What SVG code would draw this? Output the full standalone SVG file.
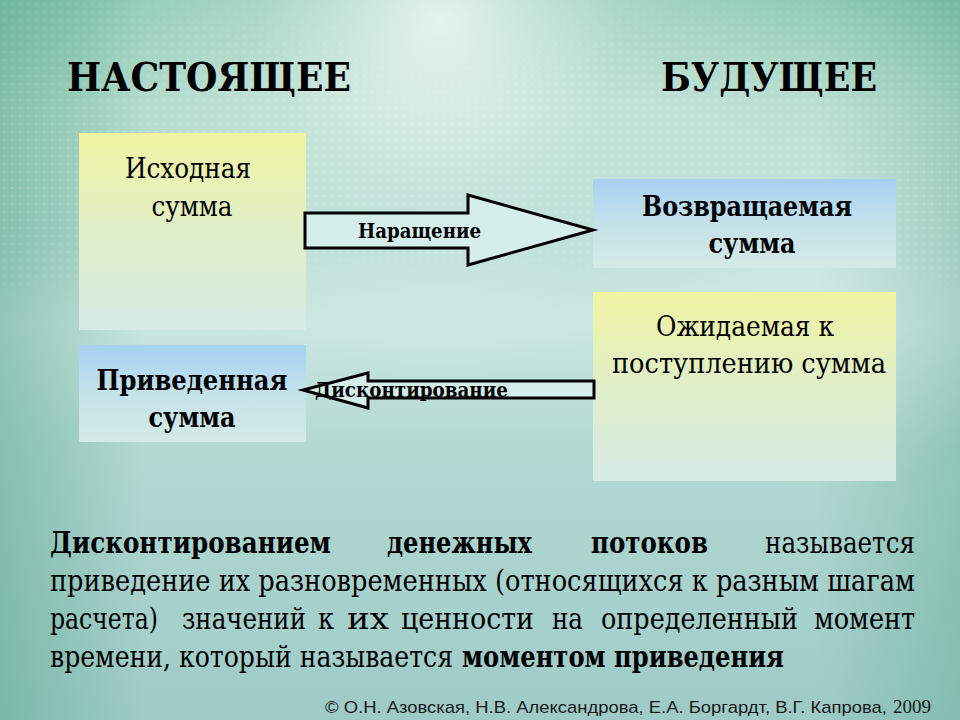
<svg xmlns="http://www.w3.org/2000/svg" width="960" height="720" viewBox="0 0 960 720">
  <defs>
    <linearGradient id="bg" x1="0" y1="0" x2="0" y2="1">
      <stop offset="0" stop-color="#8cc9b3"/>
      <stop offset="0.15" stop-color="#afdacb"/>
      <stop offset="0.33" stop-color="#b4dbd0"/>
      <stop offset="0.45" stop-color="#cae7e0"/>
      <stop offset="0.62" stop-color="#b3d9d3"/>
      <stop offset="1" stop-color="#9ecbc7"/>
    </linearGradient>
    <radialGradient id="glow" cx="440" cy="20" r="360" gradientUnits="userSpaceOnUse">
      <stop offset="0" stop-color="#ffffff" stop-opacity="0.75"/>
      <stop offset="0.5" stop-color="#ffffff" stop-opacity="0.25"/>
      <stop offset="1" stop-color="#ffffff" stop-opacity="0"/>
    </radialGradient>
    <radialGradient id="glow2" cx="820" cy="230" r="260" gradientUnits="userSpaceOnUse">
      <stop offset="0" stop-color="#ffffff" stop-opacity="0.3"/>
      <stop offset="1" stop-color="#ffffff" stop-opacity="0"/>
    </radialGradient>
    <linearGradient id="edgeL" x1="0" y1="0" x2="1" y2="0">
      <stop offset="0" stop-color="#4f9f84" stop-opacity="0.45"/>
      <stop offset="0.15" stop-color="#4f9f84" stop-opacity="0"/>
      <stop offset="0.85" stop-color="#4f9f84" stop-opacity="0"/>
      <stop offset="1" stop-color="#4f9f84" stop-opacity="0.35"/>
    </linearGradient>
    <pattern id="dots" width="8" height="8" patternUnits="userSpaceOnUse">
      <circle cx="4" cy="4" r="1.5" fill="#ffffff"/>
    </pattern>
    <linearGradient id="dotfade" x1="0" y1="0" x2="0" y2="1">
      <stop offset="0" stop-color="#ffffff" stop-opacity="0.05"/>
      <stop offset="0.6" stop-color="#ffffff" stop-opacity="0.2"/>
      <stop offset="1" stop-color="#ffffff" stop-opacity="0"/>
    </linearGradient>
    <mask id="dotmask" maskUnits="userSpaceOnUse" x="0" y="0" width="960" height="720">
      <rect x="0" y="0" width="960" height="320" fill="url(#dotfade)"/>
    </mask>
    <linearGradient id="yellowBox" x1="0" y1="0" x2="0" y2="1">
      <stop offset="0" stop-color="#f0f4a2"/>
      <stop offset="0.45" stop-color="#e2efc6"/>
      <stop offset="1" stop-color="#d5ebe5"/>
    </linearGradient>
    <linearGradient id="blueBox" x1="0" y1="0" x2="0" y2="1">
      <stop offset="0" stop-color="#a6d0f2"/>
      <stop offset="0.5" stop-color="#c4e2ea"/>
      <stop offset="1" stop-color="#d4eae6"/>
    </linearGradient>
    <style>
      .serif { font-family: "DejaVu Serif", "Liberation Serif", serif; font-stretch: condensed; fill: #000000; }
      .head { font-size: 40px; font-weight: bold; }
      .box { font-size: 28px; text-anchor: middle; }
      .b { font-weight: bold; }
      .body { font-size: 29px; }
      .lbl { font-size: 20px; font-weight: bold; }
      .arrow { fill: #d5eeea; stroke: #000000; stroke-width: 3; stroke-linejoin: miter; }
      .copy { font-family: "Liberation Sans", Arial, sans-serif; font-size: 17px; fill: #1a1a1a; }
      .digits { font-family: "Liberation Serif", "Times New Roman", serif; font-size: 18px; fill: #1a1a1a; }
    </style>
  </defs>

  <!-- background -->
  <rect x="0" y="0" width="960" height="720" fill="url(#bg)"/>
  <rect x="0" y="0" width="960" height="720" fill="url(#edgeL)"/>
  <rect x="0" y="0" width="960" height="720" fill="url(#glow)"/>
  <rect x="0" y="0" width="960" height="720" fill="url(#glow2)"/>
  <rect x="0" y="0" width="960" height="320" fill="url(#dots)" mask="url(#dotmask)"/>

  <!-- headings -->
  <text class="serif head" x="67" y="91" textLength="284" lengthAdjust="spacingAndGlyphs">НАСТОЯЩЕЕ</text>
  <text class="serif head" x="661" y="91" textLength="216" lengthAdjust="spacingAndGlyphs">БУДУЩЕЕ</text>

  <!-- nodes -->
  <g id="node-initial">
    <rect x="79" y="133" width="227" height="197" fill="url(#yellowBox)"/>
    <text class="serif box" x="188" y="178" textLength="126" lengthAdjust="spacingAndGlyphs">Исходная</text>
    <text class="serif box" x="192" y="216" textLength="81" lengthAdjust="spacingAndGlyphs">сумма</text>
  </g>
  <g id="node-present">
    <rect x="79" y="345" width="227" height="97" fill="url(#blueBox)"/>
    <text class="serif box b" x="192" y="390" textLength="191" lengthAdjust="spacingAndGlyphs">Приведенная</text>
    <text class="serif box b" x="192" y="427" textLength="87" lengthAdjust="spacingAndGlyphs">сумма</text>
  </g>
  <g id="node-returned">
    <rect x="593" y="179" width="303" height="89" fill="url(#blueBox)"/>
    <text class="serif box b" x="747" y="216" textLength="210" lengthAdjust="spacingAndGlyphs">Возвращаемая</text>
    <text class="serif box b" x="752" y="253" textLength="87" lengthAdjust="spacingAndGlyphs">сумма</text>
  </g>
  <g id="node-expected">
    <rect x="593" y="292" width="303" height="189" fill="url(#yellowBox)"/>
    <text class="serif box" x="745" y="336" textLength="178" lengthAdjust="spacingAndGlyphs">Ожидаемая к</text>
    <text class="serif box" x="749" y="373" textLength="274" lengthAdjust="spacingAndGlyphs">поступлению сумма</text>
  </g>

  <!-- connectors -->
  <g id="connectors">
    <g id="arrow-accrual">
      <polygon class="arrow" points="305,213 468,213 468,195 593,230 468,265 468,248 305,248"/>
      <text class="serif lbl" x="358" y="238" textLength="123" lengthAdjust="spacingAndGlyphs">Наращение</text>
    </g>
    <g id="arrow-discount">
      <polygon class="arrow" points="594,381 368,381 368,373 303,390 368,408 368,398 594,398"/>
      <text class="serif lbl" x="315" y="397" textLength="193" lengthAdjust="spacingAndGlyphs">Дисконтирование</text>
    </g>
  </g>

  <!-- body text -->
  <g id="definition">
    <text class="serif body b" x="50" y="553" textLength="281" lengthAdjust="spacingAndGlyphs">Дисконтированием</text>
    <text class="serif body b" x="387" y="553" textLength="145" lengthAdjust="spacingAndGlyphs">денежных</text>
    <text class="serif body b" x="591" y="553" textLength="117" lengthAdjust="spacingAndGlyphs">потоков</text>
    <text class="serif body" x="765" y="553" textLength="150" lengthAdjust="spacingAndGlyphs">называется</text>

    <text class="serif body" x="50" y="591" textLength="865" lengthAdjust="spacingAndGlyphs">приведение их разновременных (относящихся к разным шагам</text>

    <text class="serif body" x="50" y="629" textLength="108" lengthAdjust="spacingAndGlyphs">расчета)</text>
    <text class="serif body" x="182" y="629" textLength="124" lengthAdjust="spacingAndGlyphs">значений</text>
    <text class="serif body" x="318" y="629" textLength="16" lengthAdjust="spacingAndGlyphs">к</text>
    <text class="serif body" x="347" y="629" textLength="42" lengthAdjust="spacingAndGlyphs">их</text>
    <text class="serif body" x="401" y="629" textLength="133" lengthAdjust="spacingAndGlyphs">ценности</text>
    <text class="serif body" x="552" y="629" textLength="31" lengthAdjust="spacingAndGlyphs">на</text>
    <text class="serif body" x="601" y="629" textLength="197" lengthAdjust="spacingAndGlyphs">определенный</text>
    <text class="serif body" x="814" y="629" textLength="101" lengthAdjust="spacingAndGlyphs">момент</text>

    <text class="serif body" x="50" y="667" textLength="403" lengthAdjust="spacingAndGlyphs">времени, который называется</text>
    <text class="serif body b" x="462" y="667" textLength="322" lengthAdjust="spacingAndGlyphs">моментом приведения</text>
  </g>

  <!-- copyright -->
  <text class="copy" x="325" y="713" textLength="562" lengthAdjust="spacingAndGlyphs">© О.Н. Азовская, Н.В. Александрова, Е.А. Боргардт, В.Г. Капрова,</text>
  <text class="digits" x="893" y="713" textLength="38" lengthAdjust="spacingAndGlyphs">2009</text>
</svg>
